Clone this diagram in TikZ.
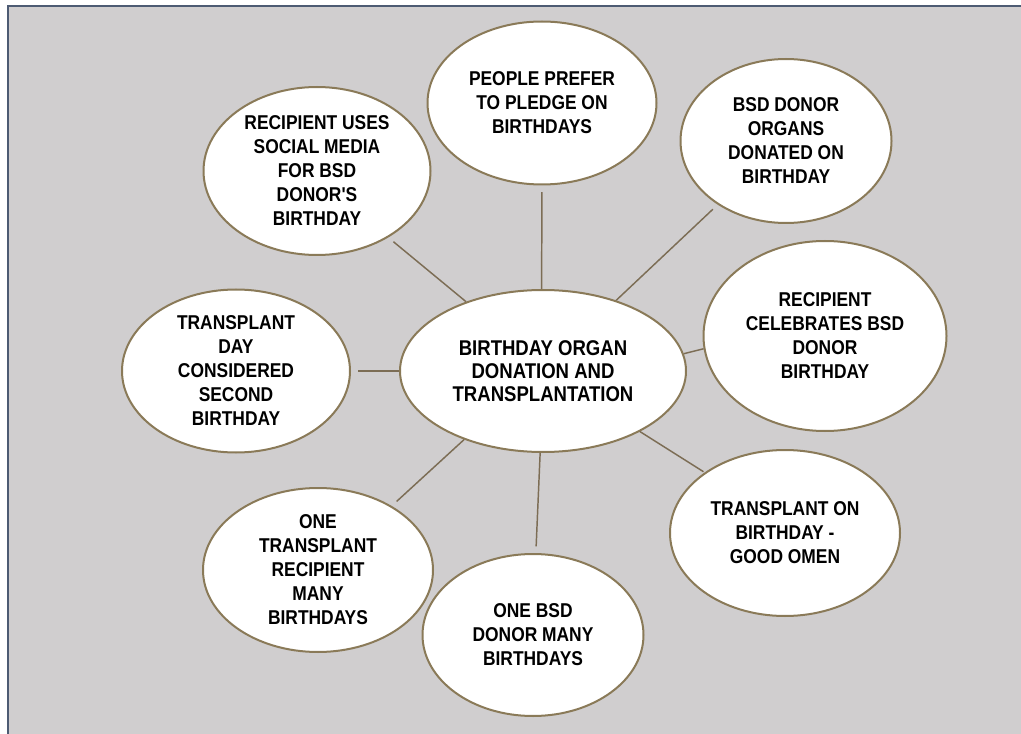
\documentclass[tikz,border=0pt]{standalone}
\usepackage{fontspec}
\usepackage{tikz}
\usetikzlibrary{shapes.geometric}
\newfontfamily\bubblefont[FakeStretch=0.87]{Liberation Sans}
\definecolor{panel}{HTML}{D0CECF}
\definecolor{framecol}{HTML}{4D5B73}
\definecolor{rimcol}{HTML}{8A7A58}
\definecolor{linkcol}{HTML}{7C6D55}

\begin{document}
\begin{tikzpicture}[x=0.75pt,y=-0.75pt,
    bubble/.style={ellipse,draw=rimcol,line width=1.5pt,fill=white,inner sep=0pt,align=center,
        font=\bubblefont\bfseries\fontsize{15}{18}\selectfont},
    link/.style={draw=linkcol,line width=1.1pt,shorten >=5pt}]
            \useasboundingbox (0,0) rectangle (1021,734);
            \fill[panel] (7,6) rectangle (1021,734);
            \draw[framecol,line width=1.5pt] (7.5,734) -- (7.5,6.5) -- (1021,6.5);

            \node[bubble,minimum width=214.5pt,minimum height=121.5pt,font=\bubblefont\bfseries\fontsize{16}{17}\selectfont] (centre) at (543,371) {BIRTHDAY ORGAN\\DONATION AND\\TRANSPLANTATION};

            \node[bubble,minimum width=171.75pt,minimum height=122.25pt] (pledge) at (542,103) {PEOPLE PREFER\\TO PLEDGE ON\\BIRTHDAYS};
            \node[bubble,minimum width=158.25pt,minimum height=123pt] (donated) at (786,141) {BSD DONOR\\ORGANS\\DONATED ON\\BIRTHDAY};
            \node[bubble,minimum width=170.25pt,minimum height=126pt] (social) at (317,171) {RECIPIENT USES\\SOCIAL MEDIA\\FOR BSD\\DONOR'S\\BIRTHDAY};
            \node[bubble,minimum width=171pt,minimum height=122.25pt] (second) at (236,371) {TRANSPLANT\\DAY\\CONSIDERED\\SECOND\\BIRTHDAY};
            \node[bubble,minimum width=182.25pt,minimum height=142.5pt] (celebrates) at (825,336) {RECIPIENT\\CELEBRATES BSD\\DONOR\\BIRTHDAY};
            \node[bubble,minimum width=172.5pt,minimum height=124.5pt] (omen) at (785,533) {TRANSPLANT ON\\BIRTHDAY -\\GOOD OMEN};
            \node[bubble,minimum width=172.5pt,minimum height=123pt] (manyrecip) at (318,570) {ONE\\TRANSPLANT\\RECIPIENT\\MANY\\BIRTHDAYS};
            \node[bubble,minimum width=165.75pt,minimum height=121.5pt] (manydonor) at (533,635) {ONE BSD\\DONOR MANY\\BIRTHDAYS};

            % spokes out of the centre
            \draw[link] (centre.91) -- (pledge.270);
            \draw[link] (centre.44.6) -- (donated.223.8);
            \draw[link] (centre.138.8) -- (social.317.3);
            \draw[link] (centre.180) -- (second.0);
            \draw[link,shorten >=0pt] (centre.7.5) -- (celebrates.186.2);
            \draw[link,shorten >=1pt] (centre.-32.2) -- (omen.143.4);
            \draw[link] (centre.221.2) -- (manyrecip.41.4);
            \draw[link] (centre.268) -- (manydonor.88);
        \end{tikzpicture}
\end{document}
